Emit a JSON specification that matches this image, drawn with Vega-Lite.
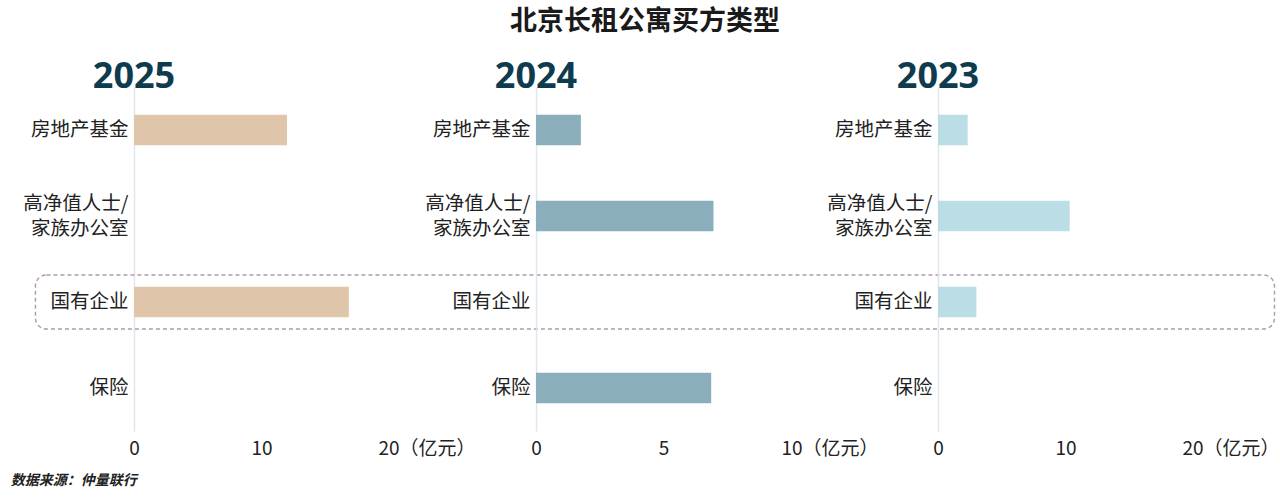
{
  "$schema": "https://vega.github.io/schema/vega-lite/v6.json",
  "padding": {"left": 10, "top": 8, "right": 0, "bottom": 0},
  "background": "white",
  "title": {
    "text": "北京长租公寓买方类型",
    "font": "Noto Sans CJK SC",
    "fontSize": 27,
    "fontWeight": "bold",
    "color": "#1a1a1a",
    "anchor": "middle",
    "offset": 23
  },
  "datasets": {
    "buyers": [
      {"year": "2025", "cat": "房地产基金", "value": 12.0},
      {"year": "2025", "cat": "国有企业", "value": 16.85},
      {"year": "2024", "cat": "房地产基金", "value": 1.76},
      {"year": "2024", "cat": "高净值人士/家族办公室", "value": 6.96},
      {"year": "2024", "cat": "保险", "value": 6.87},
      {"year": "2023", "cat": "房地产基金", "value": 2.33},
      {"year": "2023", "cat": "高净值人士/家族办公室", "value": 10.33},
      {"year": "2023", "cat": "国有企业", "value": 3.01}
    ],
    "highlight": [
      {"cat": "国有企业"}
    ]
  },
  "config": {
    "view": {"stroke": null},
    "font": "Noto Sans CJK SC",
    "axisY": {
      "title": null,
      "ticks": false,
      "domainColor": "#dfe7ec",
      "domainWidth": 1.5,
      "labelFont": "Noto Sans CJK SC",
      "labelFontSize": 19.5,
      "labelColor": "#222222",
      "labelPadding": 6,
      "labelLineHeight": 25,
      "labelLimit": 300,
      "labelOffset": {"condition": {"test": "datum.value == '高净值人士/家族办公室'", "value": -12}, "value": 0},
      "labelExpr": "datum.label == '高净值人士/家族办公室' ? ['高净值人士/', '家族办公室'] : datum.label"
    },
    "axisX": {
      "title": null,
      "ticks": false,
      "domain": false,
      "grid": false,
      "labelFont": "Noto Sans CJK SC",
      "labelFontSize": 19,
      "labelColor": "#222222",
      "labelPadding": 8,
      "labelFlush": false,
      "labelOverlap": false,
      "labelBound": false
    }
  },
  "vconcat": [
    {
      "title": {
        "text": "数据来源：仲量联行",
        "orient": "bottom",
        "anchor": "start",
        "frame": "bounds",
        "font": "Noto Sans CJK SC",
        "fontSize": 14,
        "fontStyle": "italic",
        "fontWeight": "bold",
        "color": "#222222",
        "offset": 16,
        "dx": -12
      },
      "bounds": "flush",
      "spacing": 147,
      "hconcat": [
        {
          "width": 255,
          "height": 344,
          "title": {
            "text": "2025",
            "anchor": "start",
            "align": "center",
            "frame": "group",
            "font": "Noto Sans",
            "fontSize": 36,
            "fontWeight": "bold",
            "color": "#0e3b4e",
            "offset": -9
          },
          "layer": [
            {
              "data": {"name": "buyers"},
              "transform": [{"filter": "datum.year == '2025'"}],
              "mark": {"type": "bar", "color": "#dfc5a9"},
              "encoding": {
                "y": {
                  "field": "cat",
                  "type": "nominal",
                  "sort": null,
                  "scale": {
                    "domain": ["房地产基金", "高净值人士/家族办公室", "国有企业", "保险"],
                    "paddingInner": 0.645,
                    "paddingOuter": 0.3225
                  }
                },
                "x": {
                  "field": "value",
                  "type": "quantitative",
                  "scale": {"domain": [0, 20], "nice": false, "zero": true},
                  "axis": {
                    "values": [0, 10, 20],
                    "labelExpr": "datum.value == 20 ? '20（亿元）' : datum.label",
                    "labelAlign": {"condition": {"test": "datum.value == 20", "value": "left"}, "value": "center"},
                    "labelOffset": {"condition": {"test": "datum.value == 20", "value": -11}, "value": 0}
                  }
                }
              }
            },
            {
              "data": {"name": "highlight"},
              "mark": {
                "type": "bar",
                "fill": "transparent",
                "stroke": "#ae98ae",
                "strokeWidth": 1.4,
                "strokeDash": [4, 3],
                "cornerRadius": 11,
                "height": {"band": 1.77}
              },
              "encoding": {
                "y": {"field": "cat", "type": "nominal"},
                "x": {"datum": -7.73, "type": "quantitative"},
                "x2": {"datum": 89.45}
              }
            }
          ]
        },
        {
          "width": 255,
          "height": 344,
          "title": {
            "text": "2024",
            "anchor": "start",
            "align": "center",
            "frame": "group",
            "font": "Noto Sans",
            "fontSize": 36,
            "fontWeight": "bold",
            "color": "#0e3b4e",
            "offset": -9
          },
          "data": {"name": "buyers"},
          "transform": [{"filter": "datum.year == '2024'"}],
          "mark": {"type": "bar", "color": "#8aaebc"},
          "encoding": {
            "y": {
              "field": "cat",
              "type": "nominal",
              "sort": null,
              "scale": {
                "domain": ["房地产基金", "高净值人士/家族办公室", "国有企业", "保险"],
                "paddingInner": 0.645,
                "paddingOuter": 0.3225
              }
            },
            "x": {
              "field": "value",
              "type": "quantitative",
              "scale": {"domain": [0, 10], "nice": false, "zero": true},
              "axis": {
                "values": [0, 5, 10],
                "labelExpr": "datum.value == 10 ? '10（亿元）' : datum.label",
                "labelAlign": {"condition": {"test": "datum.value == 10", "value": "left"}, "value": "center"},
                "labelOffset": {"condition": {"test": "datum.value == 10", "value": -10}, "value": 0}
              }
            }
          }
        },
        {
          "width": 255,
          "height": 344,
          "title": {
            "text": "2023",
            "anchor": "start",
            "align": "center",
            "frame": "group",
            "font": "Noto Sans",
            "fontSize": 36,
            "fontWeight": "bold",
            "color": "#0e3b4e",
            "offset": -9
          },
          "data": {"name": "buyers"},
          "transform": [{"filter": "datum.year == '2023'"}],
          "mark": {"type": "bar", "color": "#bbdee6"},
          "encoding": {
            "y": {
              "field": "cat",
              "type": "nominal",
              "sort": null,
              "scale": {
                "domain": ["房地产基金", "高净值人士/家族办公室", "国有企业", "保险"],
                "paddingInner": 0.645,
                "paddingOuter": 0.3225
              }
            },
            "x": {
              "field": "value",
              "type": "quantitative",
              "scale": {"domain": [0, 20], "nice": false, "zero": true},
              "axis": {
                "values": [0, 10, 20],
                "labelExpr": "datum.value == 20 ? '20（亿元）' : datum.label",
                "labelAlign": {"condition": {"test": "datum.value == 20", "value": "left"}, "value": "center"},
                "labelOffset": {"condition": {"test": "datum.value == 20", "value": -11}, "value": 0}
              }
            }
          }
        }
      ]
    }
  ]
}
